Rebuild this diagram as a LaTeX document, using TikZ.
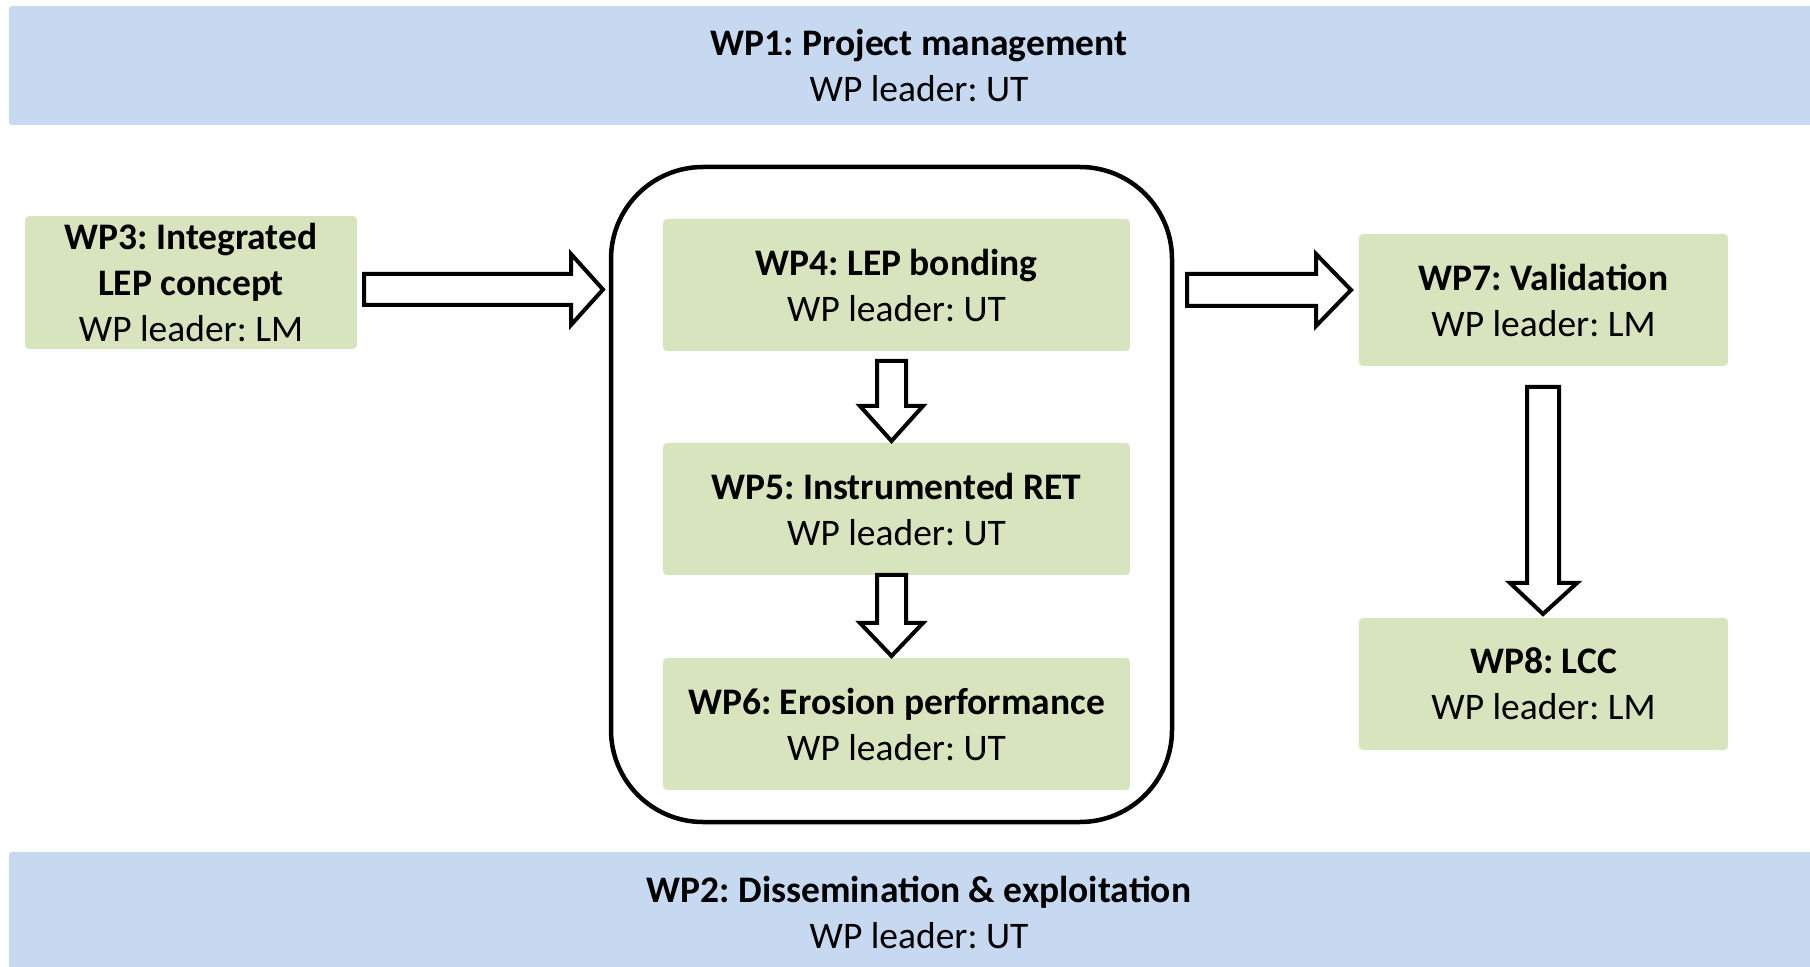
\documentclass[tikz,border=0pt]{standalone}
\usepackage{fontspec}
\setmainfont{Carlito}
\frenchspacing
\definecolor{bandblue}{HTML}{C6D9F1}
\definecolor{wpgreen}{HTML}{D7E4BD}
\begin{document}
\frenchspacing
\begin{tikzpicture}[x=0.5pt,y=-0.5pt,
  txt/.style={inner sep=0pt, align=center, font=\fontsize{18.75}{23}\selectfont},
  band/.style={txt, fill=bandblue, rounded corners=1.5pt},
  wpbox/.style={txt, fill=wpgreen, rounded corners=2pt},
  group/.style={draw=black, line width=2.25pt, rounded corners=46pt, fill=none, inner sep=0pt},
  barrow/.style={draw=black, line width=2pt, fill=white, line join=miter}]
\useasboundingbox (0,0) rectangle (1810,967);

\node[band, minimum width=910pt, minimum height=59.5pt] (wp1) at (919,65.5)
  {\textbf{WP1: Project management}\\WP leader: UT};
\node[band, minimum width=910pt, minimum height=60pt] (wp2) at (919,912)
  {\textbf{WP2: Dissemination \& exploitation}\\WP leader: UT};

\node[wpbox, minimum width=166pt, minimum height=66.5pt] (wp3) at (191,282.5)
  {\textbf{WP3: Integrated}\\\textbf{LEP concept}\\WP leader: LM};

\node[group, minimum width=280.5pt, minimum height=327.5pt] (grp) at (891.5,494.5) {};

\node[wpbox, minimum width=233.5pt, minimum height=66pt] (wp4) at (896.5,285)
  {\textbf{WP4: LEP bonding}\\WP leader: UT};
\node[wpbox, minimum width=233.5pt, minimum height=66pt] (wp5) at (896.5,509)
  {\textbf{WP5: Instrumented RET}\\WP leader: UT};
\node[wpbox, minimum width=233.5pt, minimum height=66pt] (wp6) at (896.5,724)
  {\textbf{WP6: Erosion performance}\\WP leader: UT};

\node[wpbox, minimum width=184.5pt, minimum height=66pt] (wp7) at (1543.5,300)
  {\textbf{WP7: Validation}\\WP leader: LM};
\node[wpbox, minimum width=184.5pt, minimum height=66pt] (wp8) at (1543.5,684)
  {\textbf{WP8: LCC}\\WP leader: LM};

% block arrows
\draw[barrow] (364,274) -- (571,274) -- (571,254) -- (603,289.5) -- (571,325) -- (571,305) -- (364,305) -- cycle;
\draw[barrow] (1187,274) -- (1316,274) -- (1316,254) -- (1351,290) -- (1316,326) -- (1316,306) -- (1187,306) -- cycle;
\draw[barrow] (877,361) -- (906,361) -- (906,406) -- (923,406) -- (891.5,441) -- (860,406) -- (877,406) -- cycle;
\draw[barrow] (877,575) -- (906,575) -- (906,623) -- (923,623) -- (891.5,656) -- (860,623) -- (877,623) -- cycle;
\draw[barrow] (1527,387) -- (1559,387) -- (1559,583) -- (1577,583) -- (1543,614) -- (1510,583) -- (1527,583) -- cycle;
\end{tikzpicture}
\end{document}
